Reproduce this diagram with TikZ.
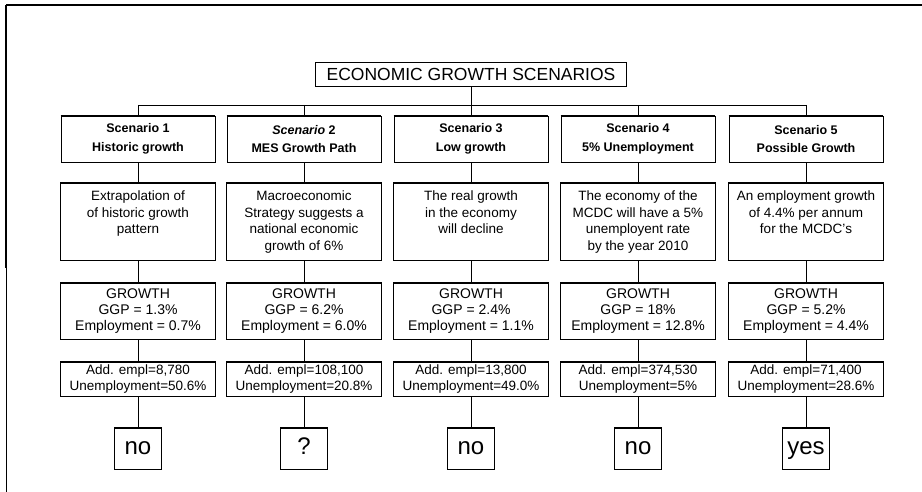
\documentclass[tikz,border=0pt]{standalone}
\usepackage{fontspec}
\setmainfont{Liberation Sans}
\begin{document}
\begin{tikzpicture}[x=1pt,y=-1pt,
  box/.style={draw,line width=0.9pt,align=center,inner sep=1pt},
  scenbox/.style={box,minimum width=154,minimum height=46,font=\bfseries\fontsize{12.5}{18.5}\selectfont},
  descbox/.style={box,minimum width=155,minimum height=77,font=\fontsize{13.5}{16.5}\selectfont},
  growbox/.style={box,minimum width=155,minimum height=56,font=\fontsize{14}{16.2}\selectfont},
  addbox/.style={box,minimum width=155,minimum height=34,font=\fontsize{13.5}{15.5}\selectfont},
  answbox/.style={box,minimum width=47,minimum height=41,text height=17,text depth=5,font=\fontsize{24}{26}\selectfont},
  link/.style={line width=0.9pt}]
  \useasboundingbox (0,0) rectangle (922,492);
  % frame
  \draw[line width=1.6pt] (6,5) -- (922,5);
  \draw[line width=2.2pt] (6,5) -- (6,268); \draw[line width=0.7pt] (6,268) -- (6,492);
  % title and bus
  \node[box,minimum width=311,minimum height=24,font=\fontsize{17.5}{20}\selectfont] (title) at (471,74) {ECONOMIC GROWTH SCENARIOS};
  \foreach \i/\x in {1/138,2/304,3/471,4/638,5/806} \coordinate (b\i) at (\x,105);
  \draw[link] (title.south) -- (b3); \draw[link] (b1) -- (b5);
  % scenarios
  \foreach \i/\x/\a/\b in {1/138/{Scenario 1}/{Historic growth},
      2/304/{\textit{Scenario} 2}/{MES Growth Path},3/471/{Scenario 3}/{Low growth},
      4/638/{Scenario 4}/{5\% Unemployment},5/806/{Scenario 5}/{Possible Growth}}
    \node[scenbox] (s\i) at (\x,139) {\a\\\b};
  % descriptions
  \foreach \i/\x/\t in {1/138/{Extrapolation of\\of historic growth\\pattern},
      2/304/{Macroeconomic\\Strategy suggests a\\national economic\\growth of 6\%},
      3/471/{The real growth\\in the economy\\will decline},
      4/638/{The economy of the\\MCDC will have a 5\%\\unemployent rate\\by the year 2010},
      5/806/{An employment growth\\of 4.4\% per annum\\for the MCDC's}}
    \node[descbox] (d\i) at (\x,222) {\parbox[c][62pt][t]{153pt}{\centering\t}};
  % growth figures
  \foreach \i/\x/\g/\e in {1/138/1.3/0.7,2/304/6.2/6.0,3/471/2.4/1.1,4/638/18/12.8,5/806/5.2/4.4}
    \node[growbox] (g\i) at (\x,311) {GROWTH\\GGP = \g\%\\Employment = \e\%};
  % additional employment
  \foreach \i/\x/\n/\u in {1/138/{8,780}/50.6\%,2/304/{108,100}/20.8\%,3/471/{13,800}/49.0\%,
      4/638/{374,530}/5\%,5/806/{71,400}/28.6\%}
    \node[addbox] (a\i) at (\x,379) {Add. empl=\n\\Unemployment=\u};
  % verdicts
  \foreach \i/\x/\v in {1/138/no,2/304/?,3/471/no,4/638/no,5/806/yes}
    \node[answbox] (v\i) at (\x,448.5) {\v};
  % connectors and heavy top edges
  \foreach \i in {1,...,5} {
    \draw[link] (b\i) -- (s\i.north); \draw[link] (s\i) -- (d\i);
    \draw[link] (d\i) -- (g\i); \draw[link] (g\i) -- (a\i); \draw[link] (a\i.south) -- (v\i.north);
    \foreach \n in {s,d,g,a,v}
      \draw[line width=2pt] (\n\i.north west) -- (\n\i.north east);
  }
\end{tikzpicture}
\end{document}
